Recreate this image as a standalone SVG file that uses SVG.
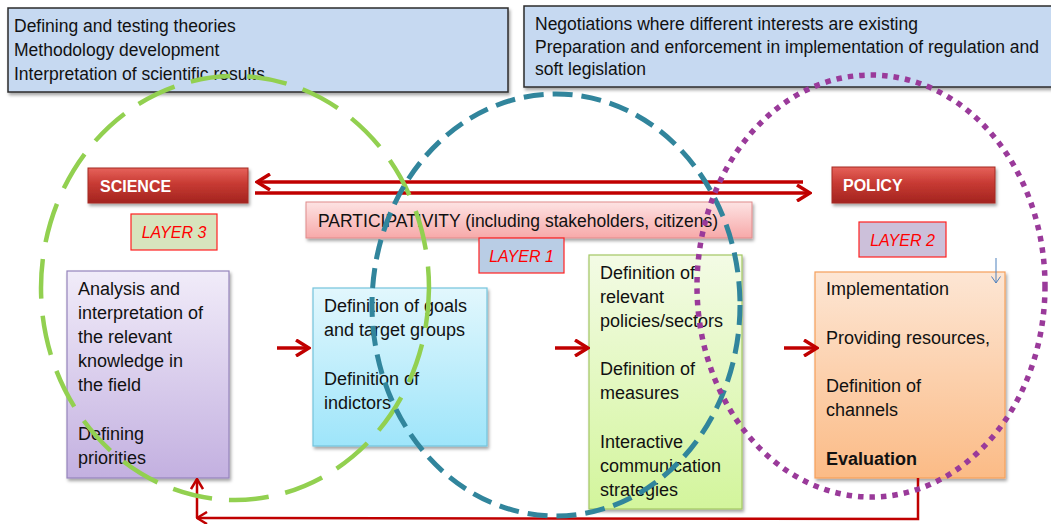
<svg xmlns="http://www.w3.org/2000/svg" width="1051" height="524" viewBox="0 0 1051 524">
<style>
text{font-family:"Liberation Sans",Arial,sans-serif;fill:#111}
.top{font-size:17.5px}
.bx{font-size:18px}
.hd{font-size:16px;font-weight:bold;fill:#fff}
.lay{font-size:16px;font-style:italic;fill:#ff0000}
.arr{stroke:#c00000;stroke-width:3.5;fill:none}
.fb{stroke:#c00000;stroke-width:2.5;fill:none}
.lab{stroke:#ff2020;stroke-width:1.2}
</style>
<defs>
<filter id="sh" x="-10%" y="-10%" width="125%" height="130%">
<feDropShadow dx="1.5" dy="2.5" stdDeviation="1.8" flood-color="#000" flood-opacity="0.35"/>
</filter>
<linearGradient id="gRed" x1="0" y1="0" x2="0" y2="1">
<stop offset="0" stop-color="#e6625a"/><stop offset="0.45" stop-color="#c73a33"/><stop offset="1" stop-color="#a3241f"/>
</linearGradient>
<linearGradient id="gPink" x1="0" y1="0" x2="0" y2="1">
<stop offset="0" stop-color="#fde3e3"/><stop offset="1" stop-color="#f7a9a9"/>
</linearGradient>
<linearGradient id="gPur" x1="0" y1="0" x2="0" y2="1">
<stop offset="0" stop-color="#f1ecf9"/><stop offset="1" stop-color="#c3b0e0"/>
</linearGradient>
<linearGradient id="gCy" x1="0" y1="0" x2="0" y2="1">
<stop offset="0" stop-color="#e2f7fd"/><stop offset="1" stop-color="#9ee5fa"/>
</linearGradient>
<linearGradient id="gGr" x1="0" y1="0" x2="0" y2="1">
<stop offset="0" stop-color="#f3fbe5"/><stop offset="1" stop-color="#d3f59c"/>
</linearGradient>
<linearGradient id="gOr" x1="0" y1="0" x2="0" y2="1">
<stop offset="0" stop-color="#fde6d4"/><stop offset="1" stop-color="#fbbb86"/>
</linearGradient>
<marker id="ah" viewBox="0 0 16 18" refX="14" refY="9" markerWidth="16" markerHeight="18" markerUnits="userSpaceOnUse" orient="auto">
<path d="M1,1 L14,9 L1,17" fill="none" stroke="#c00000" stroke-width="3.5"/>
</marker>
<marker id="ahs" viewBox="0 0 12 14" refX="11" refY="7" markerWidth="12" markerHeight="14" markerUnits="userSpaceOnUse" orient="auto">
<path d="M1,1 L11,7 L1,13" fill="none" stroke="#c00000" stroke-width="2.5"/>
</marker>
<marker id="ahb" viewBox="0 0 8 10" refX="7" refY="5" markerWidth="8" markerHeight="10" markerUnits="userSpaceOnUse" orient="auto">
<path d="M0.5,0.5 L7,5 L0.5,9.5" fill="none" stroke="#4f81bd" stroke-width="1"/>
</marker>
</defs>

<g id="science-desc">
<rect x="8" y="8" width="500" height="84" fill="#c6d9f1" stroke="#2b2b2b" stroke-width="1.5" filter="url(#sh)"/>
<text class="top" x="14" y="32">Defining and testing theories</text>
<text class="top" x="14" y="56">Methodology development</text>
<text class="top" x="14" y="80">Interpretation of scientific results</text>
</g>
<g id="policy-desc">
<rect x="524" y="6" width="540" height="81" fill="#c6d9f1" stroke="#2b2b2b" stroke-width="1.5" filter="url(#sh)"/>
<text class="top" x="535" y="30">Negotiations where different interests are existing</text>
<text class="top" x="535" y="53">Preparation and enforcement in implementation of regulation and</text>
<text class="top" x="535" y="75">soft legislation</text>
</g>

<g id="science">
<rect x="88" y="168" width="160" height="35" fill="url(#gRed)" stroke="#a52a22" stroke-width="1" filter="url(#sh)"/>
<text class="hd" x="100" y="192">SCIENCE</text>
</g>
<g id="policy">
<rect x="832" y="167" width="163" height="36" fill="url(#gRed)" stroke="#a52a22" stroke-width="1" filter="url(#sh)"/>
<text class="hd" x="843" y="191">POLICY</text>
</g>
<g id="participativity">
<rect x="306" y="202" width="446" height="36" fill="url(#gPink)" stroke="#e08b8b" stroke-width="1" filter="url(#sh)"/>
<text class="top" x="318" y="227">PARTICIPATIVITY (including stakeholders, citizens)</text>
</g>
<g id="layer3">
<rect class="lab" x="131" y="214" width="86" height="36" fill="#d7e4bd"/>
<text class="lay" x="174" y="238" text-anchor="middle">LAYER 3</text>
</g>
<g id="layer1">
<rect class="lab" x="479" y="238" width="85" height="35" fill="#b9cde5"/>
<text class="lay" x="521.5" y="262" text-anchor="middle">LAYER 1</text>
</g>
<g id="layer2">
<rect class="lab" x="859" y="222" width="87" height="35" fill="#ccc0da"/>
<text class="lay" x="902.5" y="246" text-anchor="middle">LAYER 2</text>
</g>

<g id="analysis">
<rect x="67" y="271" width="162" height="207" fill="url(#gPur)" stroke="#9584bb" stroke-width="1.2" filter="url(#sh)"/>
<text class="bx" x="78" y="295">Analysis and</text>
<text class="bx" x="78" y="319">interpretation of</text>
<text class="bx" x="78" y="343">the relevant</text>
<text class="bx" x="78" y="367">knowledge in</text>
<text class="bx" x="78" y="391">the field</text>
<text class="bx" x="78" y="440">Defining</text>
<text class="bx" x="78" y="464">priorities</text>
</g>
<g id="goals">
<rect x="313" y="288" width="174" height="158" fill="url(#gCy)" stroke="#74c4dd" stroke-width="1.2" filter="url(#sh)"/>
<text class="bx" x="324" y="312">Definition of goals</text>
<text class="bx" x="324" y="336">and target groups</text>
<text class="bx" x="324" y="385">Definition of</text>
<text class="bx" x="324" y="409">indictors</text>
</g>
<g id="policies">
<rect x="589" y="255" width="153" height="254" fill="url(#gGr)" stroke="#a3c763" stroke-width="1.2" filter="url(#sh)"/>
<text class="bx" x="600" y="279">Definition of</text>
<text class="bx" x="600" y="303">relevant</text>
<text class="bx" x="600" y="327">policies/sectors</text>
<text class="bx" x="600" y="375">Definition of</text>
<text class="bx" x="600" y="399">measures</text>
<text class="bx" x="600" y="448">Interactive</text>
<text class="bx" x="600" y="472">communication</text>
<text class="bx" x="600" y="496">strategies</text>
</g>
<g id="implementation">
<rect x="815" y="272" width="190" height="206" fill="url(#gOr)" stroke="#f5a05a" stroke-width="1.2" filter="url(#sh)"/>
<text class="bx" x="826" y="295">Implementation</text>
<text class="bx" x="826" y="344">Providing resources,</text>
<text class="bx" x="826" y="392">Definition of</text>
<text class="bx" x="826" y="416">channels</text>
<text class="bx" x="826" y="465" font-weight="bold">Evaluation</text>
<line x1="996" y1="258" x2="996" y2="283" stroke="#4f81bd" stroke-width="1" marker-end="url(#ahb)"/>
</g>

<g id="connectors">
<line class="arr" x1="803" y1="182" x2="257" y2="182" marker-end="url(#ah)"/>
<line class="arr" x1="255" y1="193" x2="810" y2="193" marker-end="url(#ah)"/>
<line class="arr" x1="277" y1="348" x2="309" y2="348" marker-end="url(#ah)"/>
<line class="arr" x1="555" y1="348" x2="588" y2="348" marker-end="url(#ah)"/>
<line class="arr" x1="784" y1="348" x2="817" y2="348" marker-end="url(#ah)"/>
<path class="fb" d="M918,478 L918,519 L197,518" marker-end="url(#ahs)"/>
<line class="fb" x1="197" y1="518" x2="197" y2="479" marker-end="url(#ahs)"/>
</g>

<g id="circles" fill="none">
<ellipse cx="235" cy="288" rx="194" ry="212" stroke="#92d050" stroke-width="4.5" stroke-dasharray="40 17"/>
<ellipse cx="556" cy="305" rx="184" ry="211" stroke="#31859c" stroke-width="5" stroke-dasharray="20 9"/>
<ellipse cx="871" cy="286" rx="174" ry="211" stroke="#9a3a9a" stroke-width="5.5" stroke-dasharray="5.5 6"/>
</g>
</svg>
